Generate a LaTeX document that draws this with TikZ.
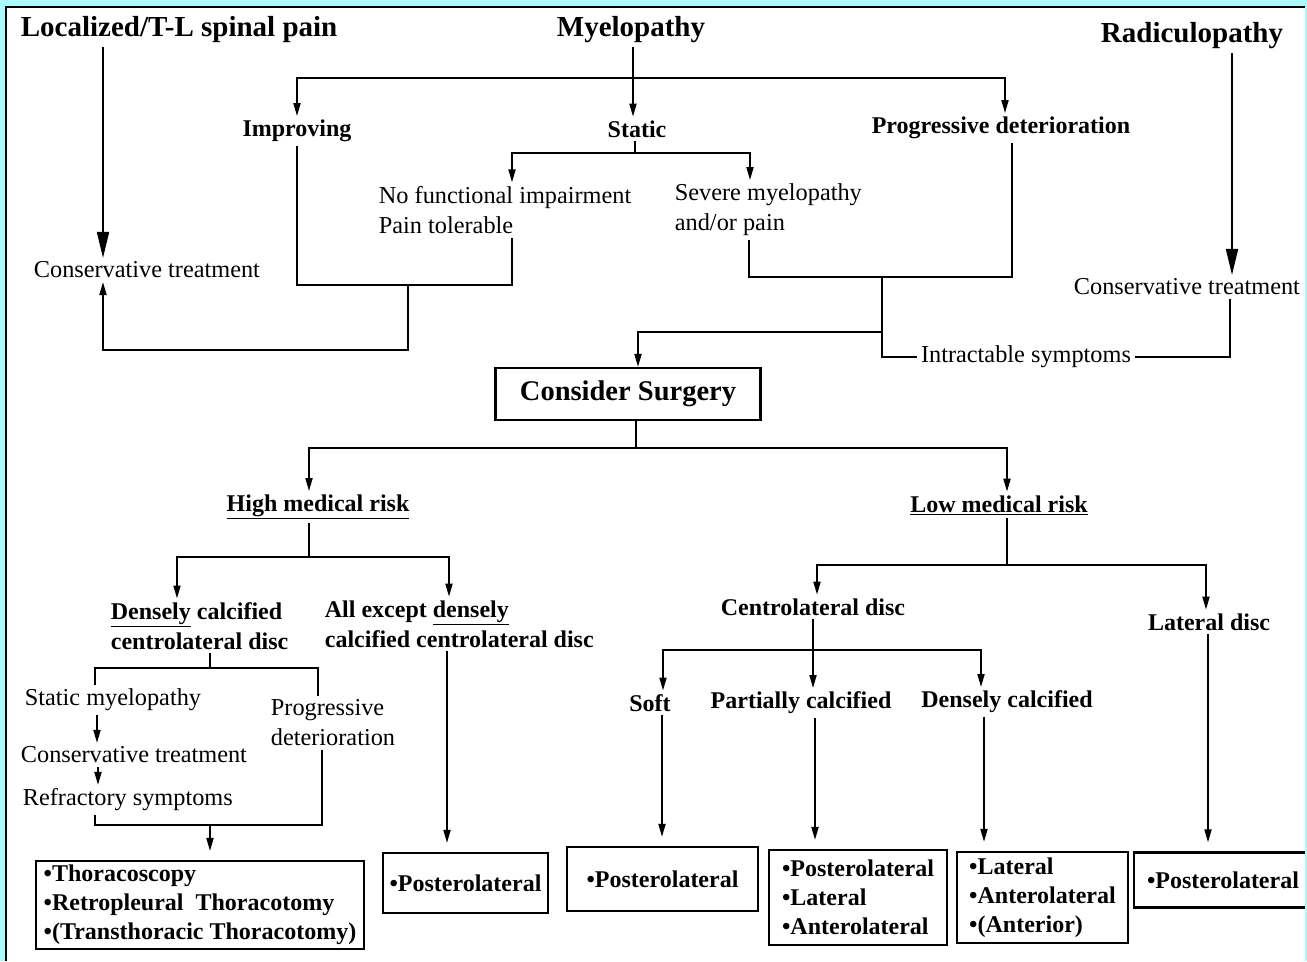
\documentclass[tikz,border=0pt]{standalone}
\usepackage{fontspec}
\setmainfont{Liberation Serif}
\usepackage{tikz}
\usetikzlibrary{arrows.meta}
\definecolor{framecyan}{RGB}{170,250,255}

\begin{document}
\begin{tikzpicture}[
  x=1pt, y=-1pt,
  line width=1.8pt,
  every node/.style={font=\fontsize{24.3}{30}\selectfont, align=left, inner sep=3pt},
  topic/.style={font=\fontsize{29}{33}\selectfont\bfseries},
  branch/.style={font=\fontsize{24}{30}\selectfont\bfseries},
  choice/.style={rectangle, draw, line width=2.2pt, font=\fontsize{24}{29}\selectfont\bfseries, inner sep=4pt},
  >={Triangle[length=13pt,width=7pt]},
  big/.style={-{Triangle[length=26pt,width=12pt]}},
  tobox/.style={->, shorten >=9pt}
  ]

% frame
\fill[framecyan] (0,0) rectangle (1307,961);
\fill[white] (6,7) rectangle (1305,961);
\draw[line width=1.2pt] (6,961) |- (1305,7);
\useasboundingbox (0,0) rectangle (1307,961);

% Nodes (top part)
\node[topic, anchor=west] (loc) at (17,30) {Localized/T-L spinal pain};
\node[topic] (mye) at (631,30) {Myelopathy};
\node[topic] (rad) at (1192,36) {Radiculopathy};
\node[anchor=west] (consL) at (30,270) {Conservative treatment};
\node[anchor=west] (consR) at (1070,287) {Conservative treatment};
\node[branch] (imp) at (297,131) {Improving};
\node[branch] (stat) at (637,129) {Static};
\node[branch] (prog) at (1001,128) {Progressive deterioration};
\node[anchor=west] (nofun) at (375,210) {No functional impairment\\Pain tolerable};
\node[anchor=west] (sev) at (671,210) {Severe myelopathy\\and/or pain};
\node (intr) at (1026,357) {Intractable symptoms};
\node[choice, font=\fontsize{28.5}{32}\selectfont\bfseries, minimum width=265pt, minimum height=52pt] (surg) at (628,394) {Consider Surgery};

% Nodes (high risk)
\node[branch] (high) at (318,507) {\underline{High medical risk}};
\node[branch, anchor=west] (dens) at (107,626) {\underline{Densely} calcified\\centrolateral disc};
\node[branch, anchor=west] (allx) at (321,624) {All except \underline{densely}\\calcified centrolateral disc};
\node[anchor=west] (statm) at (21,700) {Static myelopathy};
\node[anchor=west] (consM) at (17,755) {Conservative treatment};
\node[anchor=west] (refr) at (19,800) {Refractory symptoms};
\node[anchor=west] (progM) at (267,723) {Progressive\\deterioration};
\node[choice, minimum width=328pt, minimum height=86pt] (box1) at (200,905) {•Thoracoscopy\\•Retropleural\ \ Thoracotomy\\•(Transthoracic Thoracotomy)};
\node[choice, minimum width=165pt, minimum height=60pt] (box2) at (465.5,883) {•Posterolateral};

% Nodes (low risk)
\node[branch] (low) at (999,505) {\underline{Low medical risk}};
\node[branch] (centro) at (813,607) {Centrolateral disc};
\node[branch] (latd) at (1209,622) {Lateral disc};
\node[branch] (soft) at (650,703) {Soft};
\node[branch] (part) at (801,703) {Partially calcified};
\node[branch] (densc) at (1007,702) {Densely calcified};
\node[choice, minimum width=191pt, minimum height=64pt] (boxS) at (662.5,879) {•Posterolateral};
\node[choice, minimum width=178pt, minimum height=95pt] (boxP) at (858,897.5) {•Posterolateral\\•Lateral\\•Anterolateral};
\node[choice, minimum width=171pt, minimum height=91pt] (boxD) at (1042.5,897.5) {•Lateral\\•Anterolateral\\•(Anterior)};
\node[choice, minimum width=178pt, minimum height=55pt] (boxL) at (1223,880) {•Posterolateral};

% Arrows (top part)
\draw[big] (loc.south -| 103,0) -- (consL.north -| 103,0);
\draw[big] (rad.south -| 1232,0) -- (consR.north -| 1232,0);
\coordinate (mysplit) at (633,78);
\draw[->] (mye.south -| mysplit) -- (stat.north -| mysplit);
\draw[->] (mysplit) -| (imp.north);
\draw[->] (mysplit) -| (prog.north -| 1005,0);
\coordinate (stsplit) at (635,153);
\draw (stat.south -| stsplit) -- (stsplit);
\draw[->] (stsplit) -| (nofun.north -| 512,0);
\draw[->] (stsplit) -| (sev.north -| 750,0);
\coordinate (joinL) at (408,285);
\draw (imp.south) |- (joinL) -| (nofun.south -| 512,0);
\draw[->] (joinL) -- ++(0,65) -| (consL.south -| 103,0);
\coordinate (joinR) at (882,277);
\coordinate (sgin) at (638,332);
\draw (sev.south -| 749,0) |- (joinR) -| (prog.south -| 1012,0);
\draw[->] (joinR) |- (sgin) -- (surg.north -| sgin);
\draw (joinR) |- (intr.west);
\draw (intr.east) -| (consR.south -| 1230,0);

% Arrows (high risk)
\coordinate (sgsplit) at (636,448);
\draw (surg.south -| sgsplit) -- (sgsplit);
\draw[->] (sgsplit) -| (high.north -| 309,0);
\draw[->] (sgsplit) -| (low.north -| 1007,0);
\coordinate (hisplit) at (309,557);
\draw (high.south -| hisplit) -- (hisplit);
\draw[->] (hisplit) -| (dens.north -| 177,0);
\draw[->] (hisplit) -| (allx.north -| 449,0);
\coordinate (dsplit) at (210,668);
\draw (dens.south -| dsplit) -- (dsplit);
\draw (dsplit) -| (statm.north -| 95,0);
\draw (dsplit) -| (progM.north -| 318,0);
\draw[->] (statm.south -| 97,0) -- (consM.north -| 97,0);
\draw[->] (consM.south -| 98,0) -- (refr.north -| 98,0);
\coordinate (rjoin) at (210,825);
\draw (refr.south -| 95,0) |- (rjoin) -| (progM.south -| 322,0);
\draw[tobox] (rjoin) -- (box1.north -| rjoin);
\draw[tobox] (allx.south -| 447,0) -- (box2.north -| 447,0);

% Arrows (low risk)
\coordinate (losplit) at (1007,565);
\draw (low.south -| losplit) -- (losplit);
\draw[->] (losplit) -| (centro.north -| 817,0);
\draw[->] (losplit) -| (latd.north -| 1206,0);
\coordinate (csplit) at (813,650);
\draw[->] (centro.south -| csplit) -- (part.north -| csplit);
\draw[->] (csplit) -| (soft.north -| 663,0);
\draw[->] (csplit) -| (densc.north -| 981,0);
\draw[tobox] (soft.south -| 662,0) -- (boxS.north -| 662,0);
\draw[tobox] (part.south -| 815,0) -- (boxP.north -| 815,0);
\draw[tobox] (densc.south -| 984,0) -- (boxD.north -| 984,0);
\draw[tobox] (latd.south -| 1208,0) -- (boxL.north -| 1208,0);

% right edge of frame
\fill[framecyan] (1305,0) rectangle (1307,961);

\end{tikzpicture}
\end{document}
